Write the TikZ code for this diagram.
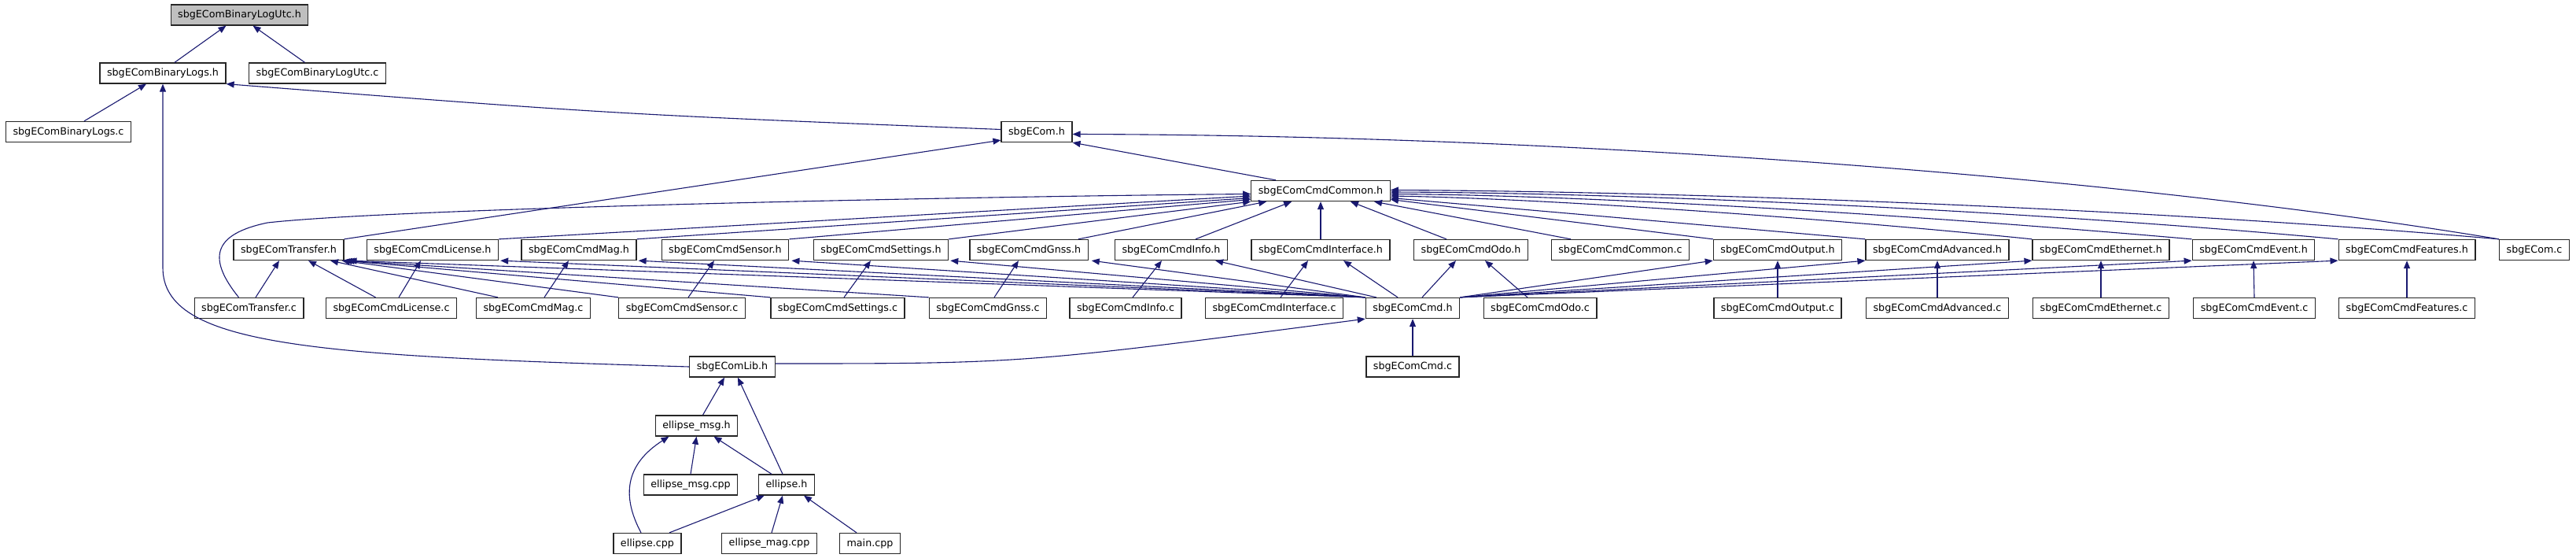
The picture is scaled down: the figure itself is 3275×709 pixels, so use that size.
\documentclass[tikz,border=0pt]{standalone}
\usepackage{fontspec}
\setmainfont{DejaVu Sans}
\usetikzlibrary{arrows.meta}
\definecolor{edgeblue}{HTML}{191970}
\begin{document}
\begin{tikzpicture}[x=1pt,y=-1pt,
  box/.style={draw=black!85, line width=1.3pt, fill=white, rectangle, minimum height=26pt, inner xsep=9pt, inner ysep=0pt, font=\fontsize{12.7}{15}\selectfont},
  rootbox/.style={box, fill=black!25},
  dep/.style={draw=edgeblue, line width=1.1pt, -{Triangle[length=10pt,width=8pt]}}]
\useasboundingbox (0,0) rectangle (3275,709);
% rank 0-3
\node[rootbox] (utch) at (304.5,19) {sbgEComBinaryLogUtc.h};
\node[box] (logsh) at (207,93) {sbgEComBinaryLogs.h};
\node[box] (utcc) at (403.5,93) {sbgEComBinaryLogUtc.c};
\node[box] (logsc) at (87,167.5) {sbgEComBinaryLogs.c};
\node[box] (ecomh) at (1318,167.5) {sbgECom.h};
\node[box] (commonh) at (1679,242.5) {sbgEComCmdCommon.h};
% rank 4
\node[box] (transh) at (367,317.5) {sbgEComTransfer.h};
\node[box] (licenseh) at (550,317.5) {sbgEComCmdLicense.h};
\node[box] (magh) at (736,317.5) {sbgEComCmdMag.h};
\node[box] (sensh) at (922,317.5) {sbgEComCmdSensor.h};
\node[box] (setth) at (1120,317.5) {sbgEComCmdSettings.h};
\node[box] (gnssh) at (1308,317.5) {sbgEComCmdGnss.h};
\node[box] (infoh) at (1489,317.5) {sbgEComCmdInfo.h};
\node[box] (ifaceh) at (1679,317.5) {sbgEComCmdInterface.h};
\node[box] (odoh) at (1870,317.5) {sbgEComCmdOdo.h};
\node[box] (commonc) at (2060,317.5) {sbgEComCmdCommon.c};
\node[box] (outh) at (2260,317.5) {sbgEComCmdOutput.h};
\node[box] (advh) at (2463,317.5) {sbgEComCmdAdvanced.h};
\node[box] (ethh) at (2671,317.5) {sbgEComCmdEthernet.h};
\node[box] (evth) at (2865,317.5) {sbgEComCmdEvent.h};
\node[box] (feath) at (3060,317.5) {sbgEComCmdFeatures.h};
\node[box] (ecomc) at (3222,317.5) {sbgECom.c};
% rank 5
\node[box] (transc) at (316.5,391.5) {sbgEComTransfer.c};
\node[box] (licc) at (497.5,391.5) {sbgEComCmdLicense.c};
\node[box] (magc) at (678,391.5) {sbgEComCmdMag.c};
\node[box] (sensc) at (867,391.5) {sbgEComCmdSensor.c};
\node[box] (settc) at (1065,391.5) {sbgEComCmdSettings.c};
\node[box] (gnssc) at (1256,391.5) {sbgEComCmdGnss.c};
\node[box] (infoc) at (1431,391.5) {sbgEComCmdInfo.c};
\node[box] (ifacec) at (1620,391.5) {sbgEComCmdInterface.c};
\node[box] (cmdh) at (1796,391.5) {sbgEComCmd.h};
\node[box] (odoc) at (1958,391.5) {sbgEComCmdOdo.c};
\node[box] (outc) at (2260,391.5) {sbgEComCmdOutput.c};
\node[box] (advc) at (2463,391.5) {sbgEComCmdAdvanced.c};
\node[box] (ethc) at (2671,391.5) {sbgEComCmdEthernet.c};
\node[box] (evtc) at (2866,391.5) {sbgEComCmdEvent.c};
\node[box] (featc) at (3060,391.5) {sbgEComCmdFeatures.c};
% rank 6-9
\node[box] (libh) at (931,466) {sbgEComLib.h};
\node[box] (cmdc) at (1796,466) {sbgEComCmd.c};
\node[box] (emsgh) at (885.5,541) {ellipse\_msg.h};
\node[box] (emsgcpp) at (878,616) {ellipse\_msg.cpp};
\node[box] (elh) at (1000,616) {ellipse.h};
\node[box] (elcpp) at (823,690.5) {ellipse.cpp};
\node[box] (emagcpp) at (978,690.5) {ellipse\_mag.cpp};
\node[box] (maincpp) at (1106,690.5) {main.cpp};

% top part
\draw[dep] ([xshift=15pt]logsh.north) -- ([xshift=-17pt]utch.south);
\draw[dep] ([xshift=-16pt]utcc.north) -- ([xshift=17pt]utch.south);
\draw[dep] ([xshift=20pt]logsc.north) -- ([xshift=-21pt]logsh.south);
\draw[dep] ([yshift=3pt]ecomh.west) .. controls (780,145) .. (logsh.south east);
\draw[dep] (libh.west) .. controls (400,452) and (207,440) .. (207,340) -- (logsh.south);
% to sbgECom.h
\draw[dep] ([xshift=-57pt]commonh.north) -- (ecomh.south east);
\draw[dep] (transh.north east) -- ([yshift=3pt]ecomh.south west);
\draw[dep] (ecomc.north west) .. controls (2700,225) and (2000,172) .. ([yshift=-3pt]ecomh.east);
% to sbgEComCmdCommon.h
\draw[dep] ([xshift=-13pt]transc.north) .. controls (265,330) and (268,298) .. (340,283) .. controls (500,265) and (1200,250) .. ([yshift=-4pt]commonh.west);
\draw[dep] (licenseh.north east) -- ([yshift=-6.5pt]commonh.west);
\draw[dep] (magh.north east) -- ([yshift=-9pt]commonh.west);
\draw[dep] (sensh.north east) -- ([yshift=-11pt]commonh.west);
\draw[dep] (setth.north east) -- (commonh.south west);
\draw[dep] ([xshift=-13pt]gnssh.north east) -- ([xshift=20pt]commonh.south west);
\draw[dep] ([xshift=31pt]infoh.north) -- ([xshift=52pt]commonh.south west);
\draw[dep] (ifaceh.north) -- (commonh.south);
\draw[dep] ([xshift=-31pt]odoh.north) -- ([xshift=38pt]commonh.south);
\draw[dep] ([xshift=-63pt]commonc.north) -- ([xshift=68pt]commonh.south);
\draw[dep] (outh.north west) -- ([yshift=-11pt]commonh.east);
\draw[dep] (advh.north west) -- ([yshift=-9pt]commonh.east);
\draw[dep] (ethh.north west) .. controls (2300,275) and (1950,252) .. ([yshift=-6.5pt]commonh.east);
\draw[dep] (evth.north west) .. controls (2400,270) and (2000,248) .. ([yshift=-4pt]commonh.east);
\draw[dep] (feath.north west) .. controls (2550,265) and (2050,245) .. ([yshift=-1.5pt]commonh.east);
\draw[dep] (ecomc.north west) .. controls (2700,262) and (2100,243) .. ([yshift=1pt]commonh.east);
% from sbgEComCmd.h
\draw[dep] (cmdh.north west) -- ([xshift=6pt]transh.south east);
\draw[dep] (cmdh.north west) -- ([xshift=2pt]licenseh.south east);
\draw[dep] (cmdh.north west) -- ([xshift=2pt]magh.south east);
\draw[dep] (cmdh.north west) -- ([xshift=3pt]sensh.south east);
\draw[dep] (cmdh.north west) -- ([xshift=2pt]setth.south east);
\draw[dep] (cmdh.north west) -- ([xshift=4pt]gnssh.south east);
\draw[dep] ([xshift=14pt]cmdh.north west) -- ([xshift=-16pt]infoh.south east);
\draw[dep] ([xshift=-19pt]cmdh.north) -- ([xshift=29pt]ifaceh.south);
\draw[dep] ([xshift=12pt]cmdh.north) -- ([xshift=-19pt]odoh.south);
\draw[dep] (cmdh.north east) -- (outh.south west);
\draw[dep] (cmdh.north east) -- (advh.south west);
\draw[dep] (cmdh.north east) -- (ethh.south west);
\draw[dep] (cmdh.north east) -- (evth.south west);
\draw[dep] (cmdh.north east) -- (feath.south west);
% .c to .h
\draw[dep] ([xshift=8.5pt]transc.north) -- ([xshift=-12pt]transh.south);
\draw[dep] ([xshift=-20pt]licc.north) -- ([xshift=25pt]transh.south);
\draw[dep] ([xshift=-45pt]magc.north) -- ([xshift=53pt]transh.south);
\draw[dep] (sensc.north west) -- ([xshift=-3pt]transh.south east);
\draw[dep] (settc.north west) -- (transh.south east);
\draw[dep] (gnssc.north west) -- ([xshift=3pt]transh.south east);
\draw[dep] ([xshift=9.5pt]licc.north) -- ([xshift=-15pt]licenseh.south);
\draw[dep] ([xshift=14pt]magc.north) -- ([xshift=-13pt]magh.south);
\draw[dep] ([xshift=8pt]sensc.north) -- ([xshift=-14pt]sensh.south);
\draw[dep] ([xshift=8pt]settc.north) -- ([xshift=-13pt]setth.south);
\draw[dep] ([xshift=8pt]gnssc.north) -- ([xshift=-13pt]gnssh.south);
\draw[dep] ([xshift=9pt]infoc.north) -- ([xshift=-12pt]infoh.south);
\draw[dep] ([xshift=8pt]ifacec.north) -- ([xshift=-16pt]ifaceh.south);
\draw[dep] ([xshift=-16pt]odoc.north) -- ([xshift=18pt]odoh.south);
\draw[dep] (outc.north) -- (outh.south);
\draw[dep] (advc.north) -- (advh.south);
\draw[dep] (ethc.north) -- (ethh.south);
\draw[dep] (evtc.north) -- (evth.south);
\draw[dep] (featc.north) -- (feath.south);
\draw[dep] (cmdc.north) -- (cmdh.south);
% lower part
\draw[dep] ([yshift=4pt]libh.east) .. controls (1300,462) .. (cmdh.south west);
\draw[dep] ([xshift=8pt]emsgh.north) -- ([xshift=-10pt]libh.south);
\draw[dep] ([xshift=-5pt]elh.north) -- ([xshift=7pt]libh.south);
\draw[dep] (emsgcpp.north) -- (emsgh.south);
\draw[dep] ([xshift=-19pt]elh.north) -- ([xshift=22pt]emsgh.south);
\draw[dep] ([xshift=-8pt]elcpp.north) .. controls (790,630) and (795,590) .. ([xshift=-35pt]emsgh.south);
\draw[dep] ([xshift=28pt]elcpp.north) -- ([xshift=8pt]elh.south west);
\draw[dep] ([xshift=3pt]emagcpp.north) -- ([xshift=-5pt]elh.south);
\draw[dep] ([xshift=-17pt]maincpp.north) -- ([xshift=22pt]elh.south);
\end{tikzpicture}
\end{document}
